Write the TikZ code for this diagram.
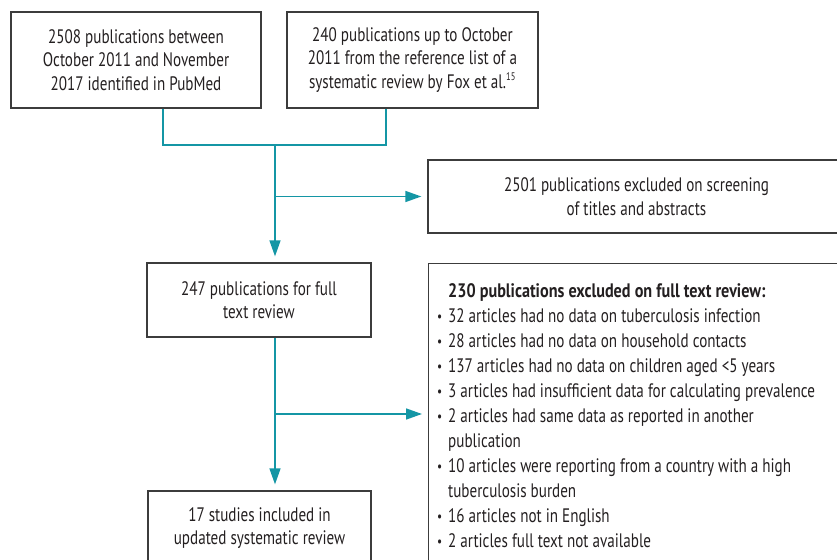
\documentclass[tikz,border=0pt]{standalone}
\usepackage{fontspec}
\setmainfont{PT Sans}[FakeStretch=0.775]
\newfontfamily\boldhd{PT Sans}[FakeStretch=0.83]
\usetikzlibrary{arrows.meta}
\definecolor{teal1}{RGB}{20,150,165}
\definecolor{ink}{RGB}{35,31,32}
\definecolor{frame}{RGB}{60,60,60}
\newcommand{\bul}{\makebox[11bp][l]{\raisebox{0.5bp}{\scalebox{0.75}{\textbullet}}}}
\newcommand{\ind}{\hspace*{11bp}}
\begin{document}
\begin{tikzpicture}[x=1bp,y=-1bp,
  box/.style={draw=frame, line width=1.3bp, text=ink, align=center, inner sep=0pt,
    font=\fontsize{19.5bp}{23.5bp}\selectfont},
  flow/.style={draw=teal1, line width=1.5bp},
  arr/.style={flow, -{Triangle[length=16bp,width=11bp]}, shorten >=6bp}]
\useasboundingbox (0,0) rectangle (837,560);
\clip (0,0) rectangle (837,560);
\node[box, minimum width=250bp, minimum height=96bp] (b1) at (136,60)
  {2508 publications between\\October 2011 and November\\2017 identified in PubMed};
\node[box, minimum width=251bp, minimum height=96bp] (b2) at (412.5,60)
  {240 publications up to October\\2011 from the reference list of a\\systematic review by Fox et al.\textsuperscript{\fontsize{11bp}{11bp}\selectfont 15}};
\node[box, minimum width=417bp, minimum height=73bp] (b3) at (636.5,196.5)
  {2501 publications excluded on screening\\of titles and abstracts};
\node[box, minimum width=224bp, minimum height=74bp] (b4) at (259,300)
  {247 publications for full\\text review};
\node[box, minimum width=223bp, minimum height=74bp] (b6) at (259.5,528)
  {17 studies included in\\updated systematic review};
\node[box, anchor=north west, minimum width=430bp, minimum height=320bp] (b5) at (428,263) {};
\node[anchor=north west, text=ink, align=left, inner sep=0pt,
  font=\fontsize{19.5bp}{25bp}\selectfont] (b5t) at (437,283)
  {\ind{\boldhd\bfseries 230 publications excluded on full text review:}\\
   \bul 32 articles had no data on tuberculosis infection\\
   \bul 28 articles had no data on household contacts\\
   \bul 137 articles had no data on children aged <5 years\\
   \bul 3 articles had insufficient data for calculating prevalence\\
   \bul 2 articles had same data as reported in another\\
   \ind publication\\
   \bul 10 articles were reporting from a country with a high\\
   \ind tuberculosis burden\\
   \bul 16 articles not in English\\
   \bul 2 articles full text not available};
\coordinate (m) at (275,145);
\coordinate (m2) at (275,414);
\draw[flow] ([xshift=27bp]b1.south) |- (m) -| ([xshift=-26.5bp]b2.south);
\draw[arr] (m) -- (m |- b4.north);
\draw[arr] (m |- b3.west) -- (b3.west);
\draw[arr] (b4.south -| m) -- (b6.north -| m);
\draw[arr] (m2) -- (m2 -| b5.west);
\end{tikzpicture}
\end{document}
